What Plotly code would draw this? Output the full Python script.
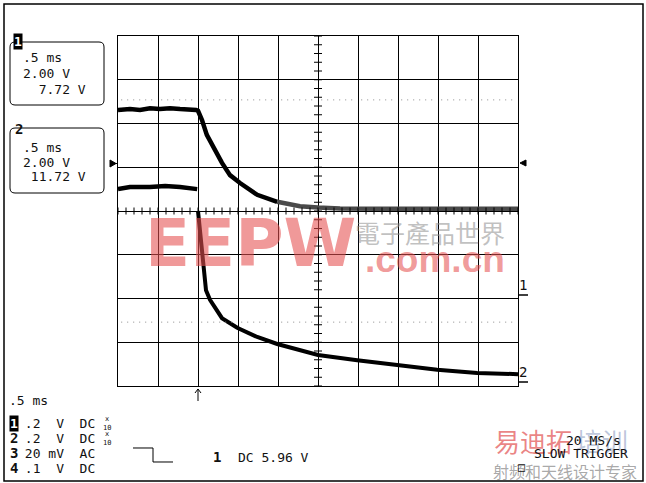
"""
Scope capture: two channels dropping after a trigger at 1.0 ms.
Time base 0.5 ms/div, vertical values in screen divisions (8 div tall).
"""

import plotly.graph_objects as go

# channel 1 (upper trace), black part up to ~2 ms, then drawn gray
ch1_pre_t = [0.0, 0.15, 0.275, 0.4, 0.525, 0.65, 0.775, 0.9, 0.975,
             1.0, 1.05, 1.11, 1.19, 1.3, 1.4, 1.525, 1.74, 1.99]
ch1_pre_v = [2.31, 2.33, 2.31, 2.35, 2.33, 2.35, 2.33, 2.33, 2.31,
             2.29, 2.08, 1.74, 1.46, 1.10, 0.82, 0.64, 0.37, 0.21]
ch1_tail_t = [1.99, 2.275, 2.5, 2.775, 3.275, 4.025, 5.0]
ch1_tail_v = [0.21, 0.11, 0.08, 0.06, 0.05, 0.05, 0.05]

# channel 2 (lower trace), before and after the fast edge
ch2_pre_t = [0.0, 0.15, 0.4, 0.59, 0.775, 0.9, 0.99]
ch2_pre_v = [0.50, 0.55, 0.55, 0.57, 0.55, 0.53, 0.50]
ch2_post_t = [1.0, 1.1, 1.15, 1.3, 1.49, 1.74, 1.99, 2.275, 2.5,
              2.99, 3.49, 3.99, 4.49, 5.0]
ch2_post_v = [0.0, -1.81, -2.03, -2.45, -2.67, -2.88, -3.04, -3.18, -3.29,
              -3.41, -3.52, -3.63, -3.70, -3.73]

# dotted marker levels (div)
marker_levels = [2.54, -2.54]

# readouts
box1_lines = ['.5 ms', '2.00 V', '  7.72 V']
box2_lines = ['.5 ms', '2.00 V', ' 11.72 V']
channel_rows = [('1', ' .2  V  DC'), ('2', ' .2  V  DC'),
                ('3', ' 20 mV  AC'), ('4', ' .1  V  DC')]
timebase_label = '.5 ms'
trigger_label = 'DC 5.96 V'
acq_lines = ['20 MS/s', 'SLOW TRIGGER']

# plot area in pixels
L, R, T, B = 118, 518, 36, 386
MONO = 'DejaVu Sans Mono'


def px(x):
    return (x - L) / (R - L)


def py(y):
    return (B - y) / (B - T)


def pix_path(points):
    parts = []
    for i, (x, y) in enumerate(points):
        parts.append(('M' if i == 0 else 'L') + f'{px(x):.5f},{py(y):.5f}')
    return ' '.join(parts)


fig = go.Figure()

fig.add_trace(go.Scatter(x=ch1_pre_t, y=ch1_pre_v, mode='lines',
                         line=dict(color='#000000', width=4.5),
                         hoverinfo='skip'))
fig.add_trace(go.Scatter(x=ch1_tail_t, y=ch1_tail_v, mode='lines',
                         line=dict(color='#4a4a4a', width=4.5),
                         hoverinfo='skip'))
fig.add_trace(go.Scatter(x=ch2_pre_t, y=ch2_pre_v, mode='lines',
                         line=dict(color='#000000', width=4.5),
                         hoverinfo='skip'))
fig.add_trace(go.Scatter(x=ch2_post_t, y=ch2_post_v, mode='lines',
                         line=dict(color='#000000', width=4),
                         hoverinfo='skip'))

shapes = []

# minor ticks on the centre cross
for i in range(51):
    t = i * 0.1
    shapes.append(dict(type='line', xref='x', yref='y', x0=t, x1=t,
                       y0=-0.08, y1=0.08, line=dict(color='black', width=1)))
for j in range(41):
    v = -4 + j * 0.2
    shapes.append(dict(type='line', xref='x', yref='y', x0=2.45, x1=2.55,
                       y0=v, y1=v, line=dict(color='black', width=1)))

# dotted marker lines, broken at each division
for lvl in marker_levels:
    for k in range(10):
        shapes.append(dict(type='line', xref='x', yref='y',
                           x0=k * 0.5 + 0.04, x1=k * 0.5 + 0.45, y0=lvl, y1=lvl,
                           line=dict(color='#8c8c8c', width=1, dash='1px,5px')))

# outer frame
shapes.append(dict(type='rect', xref='paper', yref='paper',
                   x0=px(4), x1=px(643), y0=py(481), y1=py(4),
                   line=dict(color='black', width=1.5)))


def rounded_box(x0, y0, x1, y1, r=5):
    rx, ry = r / (R - L), r / (B - T)
    a, b, c, d = px(x0), px(x1), py(y0), py(y1)
    path = (f'M{a + rx},{c} L{b - rx},{c} Q{b},{c} {b},{c - ry} '
            f'L{b},{d + ry} Q{b},{d} {b - rx},{d} L{a + rx},{d} '
            f'Q{a},{d} {a},{d + ry} L{a},{c - ry} Q{a},{c} {a + rx},{c} Z')
    return dict(type='path', xref='paper', yref='paper', path=path,
                line=dict(color='black', width=1))


shapes.append(rounded_box(10, 42, 104, 105))
shapes.append(rounded_box(10, 128, 104, 193))

# ground/offset markers
shapes.append(dict(type='path', xref='paper', yref='paper',
                   path=pix_path([(110, 160), (110, 167), (116, 163.5)]) + ' Z',
                   fillcolor='black', line=dict(color='black', width=1)))
shapes.append(dict(type='line', xref='paper', yref='paper', x0=px(115), x1=px(118),
                   y0=py(163.5), y1=py(163.5), line=dict(color='black', width=1)))
shapes.append(dict(type='path', xref='paper', yref='paper',
                   path=pix_path([(526, 160), (526, 166), (520, 163)]) + ' Z',
                   fillcolor='black', line=dict(color='black', width=1)))
for yline in (295, 382):
    shapes.append(dict(type='line', xref='paper', yref='paper', x0=px(518), x1=px(528),
                       y0=py(yline), y1=py(yline), line=dict(color='black', width=1.5)))

# trigger position arrow
shapes.append(dict(type='line', xref='paper', yref='paper', x0=px(198), x1=px(198),
                   y0=py(389), y1=py(401), line=dict(color='black', width=1)))
shapes.append(dict(type='path', xref='paper', yref='paper',
                   path=pix_path([(195, 393), (198, 389), (201, 393)]),
                   line=dict(color='black', width=1)))

# falling edge trigger symbol
shapes.append(dict(type='path', xref='paper', yref='paper',
                   path=pix_path([(133, 448), (153, 448), (153, 462), (173, 462)]),
                   line=dict(color='black', width=1)))

annotations = []


def label(x, y, text, size=13, family=MONO, color='#111111',
          xanchor='left', **kw):
    annotations.append(dict(x=px(x), y=py(y), xref='paper', yref='paper',
                            text=text, showarrow=False, xanchor=xanchor,
                            yanchor='middle',
                            font=dict(family=family, size=size, color=color),
                            **kw))


def reverse_label(x, y, text):
    annotations.append(dict(x=px(x), y=py(y), xref='paper', yref='paper',
                            text=f'<b>{text}</b>', showarrow=False,
                            xanchor='left', yanchor='middle', bgcolor='black',
                            borderpad=0,
                            font=dict(family=MONO, size=13, color='white')))


# watermark (drawn under the readouts)
label(250, 243, '<b>EEPW</b>', size=66, family='DejaVu Sans',
      color='rgba(230,80,80,0.58)', xanchor='center')
label(430, 232, '電子產品世界', size=25, family='Noto Sans CJK TC',
      color='rgba(140,140,140,0.55)', xanchor='center')
label(435, 259, '<b>.com.cn</b>', size=37, family='Liberation Sans',
      color='rgba(230,80,80,0.58)', xanchor='center')

# channel boxes
reverse_label(13, 42, '1')
for i, s in enumerate(box1_lines):
    label(21, 58 + i * 15.5, s)
label(13, 129, '<b>2</b>', size=14)
for i, s in enumerate(box2_lines):
    label(21, 147 + i * 15, s)

# right side channel labels
label(523, 285, '1', size=14, xanchor='center')
label(523, 372, '2', size=14, xanchor='center')

# bottom left settings
label(7, 400, timebase_label)
for i, (ch, rest) in enumerate(channel_rows):
    y = 423 + i * 15
    if ch == '1':
        reverse_label(9, y, ch)
    else:
        label(8, y, f'<b>{ch}</b>', size=14)
    label(15, y, rest)
    if ch in ('1', '2'):
        label(101, y, 'x<br>10', size=7)

# trigger readout
label(211, 457, '<b>1</b>', size=14)
label(236, 457, trigger_label)

# second watermark, bottom right
label(492, 441, '易迪拓', size=26, family='Noto Sans CJK SC',
      color='rgba(220,50,50,0.6)')
label(574, 441, '培训', size=26, family='Noto Sans CJK SC',
      color='rgba(110,130,175,0.45)')
label(491, 471, '射频和天线设计专家', size=16, family='Noto Sans CJK SC',
      color='rgba(120,120,120,0.65)')

# acquisition status
label(564, 441, acq_lines[0])
label(532, 453, acq_lines[1])
label(516, 467, '□', size=12)

axis_common = dict(showgrid=True, gridcolor='black', gridwidth=1,
                   showline=True, mirror=True, linecolor='black', linewidth=1,
                   showticklabels=False, ticks='', zeroline=False,
                   fixedrange=True)

fig.update_layout(
    width=646, height=483,
    margin=dict(l=L, r=646 - R, t=T, b=483 - B),
    paper_bgcolor='white', plot_bgcolor='white',
    showlegend=False,
    xaxis=dict(range=[0, 5], tick0=0, dtick=0.5, **axis_common),
    yaxis=dict(range=[-4, 4], tick0=0, dtick=1, **axis_common),
    shapes=shapes,
    annotations=annotations,
)

# page body margin would shift the figure by 8px
fig.write_html('out.html', config={'displayModeBar': False},
               post_script="document.body.style.margin='0';")
